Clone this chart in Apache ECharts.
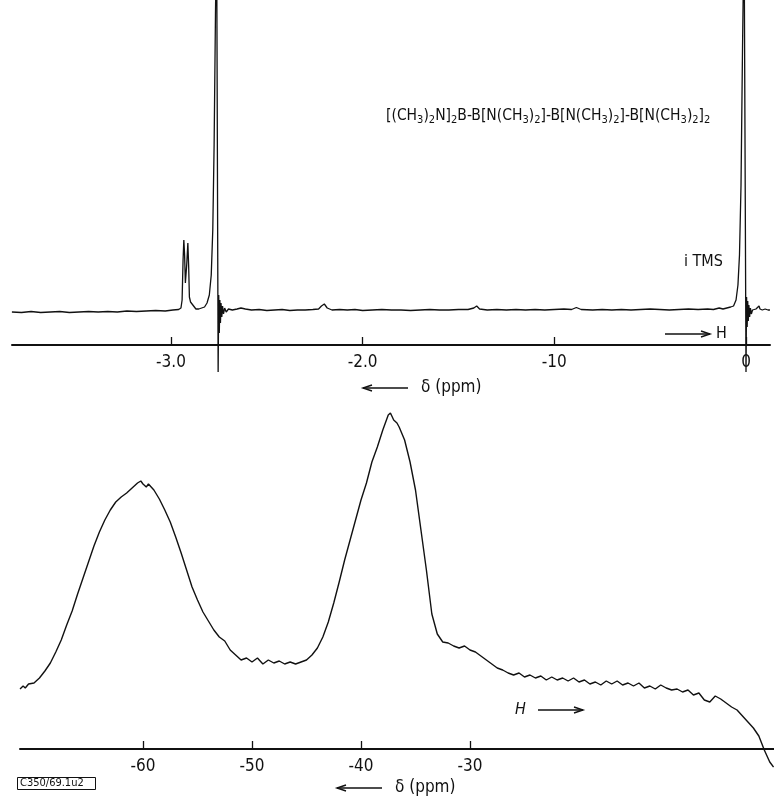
<!DOCTYPE html>
<html><head><meta charset="utf-8">
<script src="https://cdn.jsdelivr.net/npm/echarts@6/dist/echarts.min.js"></script>
<style>html,body{margin:0;padding:0;background:#fff}#c{width:774px;height:799px}</style>
</head><body><div id="c"></div>
<script>
const FONT = '"Liberation Sans Narrow","DejaVu Sans Condensed",sans-serif';

// tick labels
const topTickValues = [-3, -2, -1, 0];
const topTickLabels = ['-3.0', '-2.0', '-10', '0'];
const bottomTickValues = [-60, -50, -40, -30];
const bottomTickLabels = ['-60', '-50', '-40', '-30'];

// top spectrum (1H), chemical shift in ppm and pen deflection
const topShift = [-3.83,-3.78,-3.73,-3.68,-3.63,-3.58,-3.53,-3.48,-3.43,-3.38,-3.33,-3.28,-3.23,-3.18,-3.13,-3.08,-3.03,-2.99,-2.96,
 -2.948,-2.942,-2.937,-2.933,-2.929,-2.925,-2.918,-2.912,-2.908,-2.904,-2.898,-2.890,-2.882,-2.870,-2.855,-2.840,-2.825,-2.812,-2.800,-2.790,-2.782,-2.775,-2.768,-2.762,-2.756,
 -2.754,-2.751,-2.748,-2.745,-2.742,-2.739,-2.735,-2.731,-2.726,-2.720,-2.712,-2.700,-2.680,-2.655,-2.635,-2.625,-2.612,-2.58,-2.54,-2.50,-2.46,-2.42,-2.38,-2.34,-2.30,-2.26,-2.23,
 -2.215,-2.200,-2.185,-2.16,-2.12,-2.08,-2.04,-2.00,-1.95,-1.90,-1.85,-1.80,-1.75,-1.70,-1.65,-1.60,-1.55,-1.50,-1.45,-1.42,-1.405,-1.39,-1.35,-1.30,-1.25,-1.20,-1.15,-1.10,-1.05,-1.00,
 -0.95,-0.91,-0.885,-0.86,-0.80,-0.75,-0.70,-0.65,-0.60,-0.55,-0.50,-0.45,-0.40,-0.35,-0.30,-0.25,-0.20,-0.17,-0.14,-0.12,-0.10,-0.08,-0.065,-0.052,-0.042,-0.034,-0.026,-0.018,-0.010,-0.004,
 0.000,0.003,0.006,0.009,0.012,0.015,0.019,0.023,0.028,0.034,0.042,0.052,0.060,0.068,0.073,0.085,0.100,0.115,0.125];
const topSignal = [33,32.5,33.5,32.5,33,33.5,32.5,33,33.5,33,33.5,33,34,33.5,34,34.5,34,35,35.5,
 37,45,85,105,90,62,80,102,80,48,43,42,39,36,36,37,38,42,50,70,115,200,330,420,420,
 -27,50,12,45,22,42,28,39,31,37,33,36,35,36,37,39,36,35,35.5,34.5,35,35.5,34.5,35,35,35.5,36,
 39,41,37,35,35.5,35,35.5,34.5,35,35.5,35,35,34.5,35,35.5,35,35,35.5,35.5,37,39,36,35,35.5,35,35.5,35,35.5,35,35.5,
 36,35.5,37.5,35.5,35,35.5,35,35.5,35,35.5,36,35.5,35,35.5,36,35.5,36,35.5,37,36,37,38,39,45,60,90,160,300,420,420,
 -27,48,18,44,24,40,28,37,31,35,34,36,35,39,36,35,36,35,35];

// bottom spectrum (11B), chemical shift in ppm and pen deflection
const bottomShift = [-71.28,-71.0,-70.8,-70.5,-70,-69.5,-69,-68.5,-68,-67.5,-67,-66.5,-66,-65.5,-65,-64.5,-64,-63.5,-63,-62.5,
 -62,-61.5,-61,-60.5,-60.2,-60,-59.7,-59.5,-59,-58.5,-58,-57.5,-57,-56.5,-56,-55.5,-55,-54.5,-54,-53.5,
 -53,-52.5,-52,-51.5,-51,-50.5,-50,-49.5,-49,-48.5,-48,-47.5,-47,-46.5,-46,-45.5,-45,-44.5,-44,-43.5,
 -43,-42.5,-42,-41.5,-41,-40.5,-40,-39.5,-39,-38.5,-38,-37.5,-37.3,-37,-36.7,-36.5,-36,-35.5,-35,-34.5,
 -34,-33.5,-33,-32.5,-32,-31.5,-31,-30.5,-30,-29.5,-29,-28.5,-28,-27.5,-27,-26.5,-26,-25.5,-25,-24.5,
 -24,-23.5,-23,-22.5,-22,-21.5,-21,-20.5,-20,-19.5,-19,-18.5,-18,-17.5,-17,-16.5,-16,-15.5,-15,-14.5,
 -14,-13.5,-13,-12.5,-12,-11.5,-11,-10.5,-10,-9.5,-9,-8.5,-8,-7.5,-7,-6.5,-6,-5.5,-5,-4.5,
 -4,-3.5,-3,-2.5,-2.15];
const bottomSignal = [60,63,61,65,66,71,78,86,97,109,124,138,155,171,187,203,217,229,239,247,
 252,256,261,266,268,265,262,265,259,250,239,227,212,196,179,162,149,137,128,119,
 112,108,99,94,89,91,87,91,85,89,86,88,85,87,85,87,89,94,101,112,
 127,146,167,189,209,229,249,266,287,302,319,334,336,329,326,322,309,287,259,219,
 179,135,115,107,106,103,101,103,99,97,93,89,85,81,79,76,74,76,72,74,
 71,73,69,72,69,71,68,71,67,69,65,67,64,68,65,68,64,66,63,66,
 61,63,60,64,61,59,60,57,59,54,56,49,47,53,50,46,42,39,33,27,
 21,13,-1,-13,-18];

const pairs = (xs, ys) => xs.map((x, i) => [x, ys[i]]);

const chart = echarts.init(document.getElementById('c'), null, {renderer: 'canvas'});

function xAxisDef(gridIndex, min, max, vals, labels) {
  return {
    type: 'value', gridIndex, min, max,
    axisLine: {onZero: false, lineStyle: {color: '#111', width: 2}},
    axisTick: {inside: true, length: 8, customValues: vals, lineStyle: {color: '#111', width: 1.3}},
    axisLabel: {customValues: vals, margin: 9, color: '#111', fontFamily: FONT, fontSize: 17,
      formatter: v => labels[vals.indexOf(v)]},
    splitLine: {show: false}
  };
}
function yAxisDef(gridIndex, max) {
  return {type: 'value', gridIndex, min: 0, max, show: false, splitLine: {show: false}};
}

function arrowLeft(x1, x2, y) {
  return [
    {type: 'line', shape: {x1: x1, y1: y, x2: x2, y2: y}, style: {stroke: '#111', lineWidth: 1.4}},
    {type: 'polyline', shape: {points: [[x1 + 9, y - 3], [x1, y], [x1 + 9, y + 3]]}, style: {stroke: '#111', lineWidth: 1.4, fill: null}}
  ];
}
function arrowRight(x1, x2, y) {
  return [
    {type: 'line', shape: {x1: x1, y1: y, x2: x2, y2: y}, style: {stroke: '#111', lineWidth: 1.4}},
    {type: 'polyline', shape: {points: [[x2 - 9, y - 3], [x2, y], [x2 - 9, y + 3]]}, style: {stroke: '#111', lineWidth: 1.4, fill: null}}
  ];
}

const formula = '{a|[(CH}{s|3}{a|)}{s|2}{a|N]}{s|2}{a|B-B[N(CH}{s|3}{a|)}{s|2}{a|]-B[N(CH}{s|3}{a|)}{s|2}{a|]-B[N(CH}{s|3}{a|)}{s|2}{a|]}{s|2}';

const graphics = [
  {type: 'text', left: 386, top: 108, style: {text: formula, fill: '#111',
    rich: {a: {fontFamily: FONT, fontSize: 15.5, fill: '#111'}, s: {fontFamily: FONT, fontSize: 11, fill: '#111', padding: [8, 0, 0, 0]}}}},
  {type: 'text', left: 684, top: 254, style: {text: 'i TMS', fill: '#111', fontFamily: FONT, fontSize: 16}},
  ...arrowRight(665, 710, 334),
  {type: 'text', left: 716, top: 326, style: {text: 'H', fill: '#111', fontFamily: FONT, fontSize: 16}},
  ...arrowLeft(363, 408, 388),
  {type: 'text', left: 421, top: 379, style: {text: 'δ (ppm)', fill: '#111', fontFamily: FONT, fontSize: 17}},
  {type: 'text', left: 515, top: 702, style: {text: 'H', fill: '#111', fontFamily: FONT, fontSize: 16, fontStyle: 'italic'}},
  ...arrowRight(538, 583, 710),
  ...arrowLeft(337, 382, 788),
  {type: 'text', left: 395, top: 779, style: {text: 'δ (ppm)', fill: '#111', fontFamily: FONT, fontSize: 17}},
  {type: 'rect', shape: {x: 17.5, y: 777.5, width: 78, height: 12}, style: {stroke: '#111', lineWidth: 1, fill: null}},
  {type: 'text', left: 20, top: 778, style: {text: 'C350/69.1u2', fill: '#111', fontFamily: FONT, fontSize: 11}}
];

chart.setOption({
  animation: false,
  backgroundColor: '#fff',
  grid: [
    {left: 12, width: 758, top: 0, height: 345},
    {left: 20, width: 754, top: 380, height: 369}
  ],
  xAxis: [
    xAxisDef(0, -3.8295, 0.1252, topTickValues, topTickLabels),
    xAxisDef(1, -71.284, -2.11, bottomTickValues, bottomTickLabels)
  ],
  yAxis: [yAxisDef(0, 345), yAxisDef(1, 369)],
  series: [
    {type: 'line', xAxisIndex: 0, yAxisIndex: 0, data: pairs(topShift, topSignal), showSymbol: false, clip: false,
      lineStyle: {color: '#111', width: 1.3}},
    {type: 'line', xAxisIndex: 1, yAxisIndex: 1, data: pairs(bottomShift, bottomSignal), showSymbol: false, clip: false,
      lineStyle: {color: '#111', width: 1.4}}
  ],
  graphic: graphics
});
</script>
</body></html>
